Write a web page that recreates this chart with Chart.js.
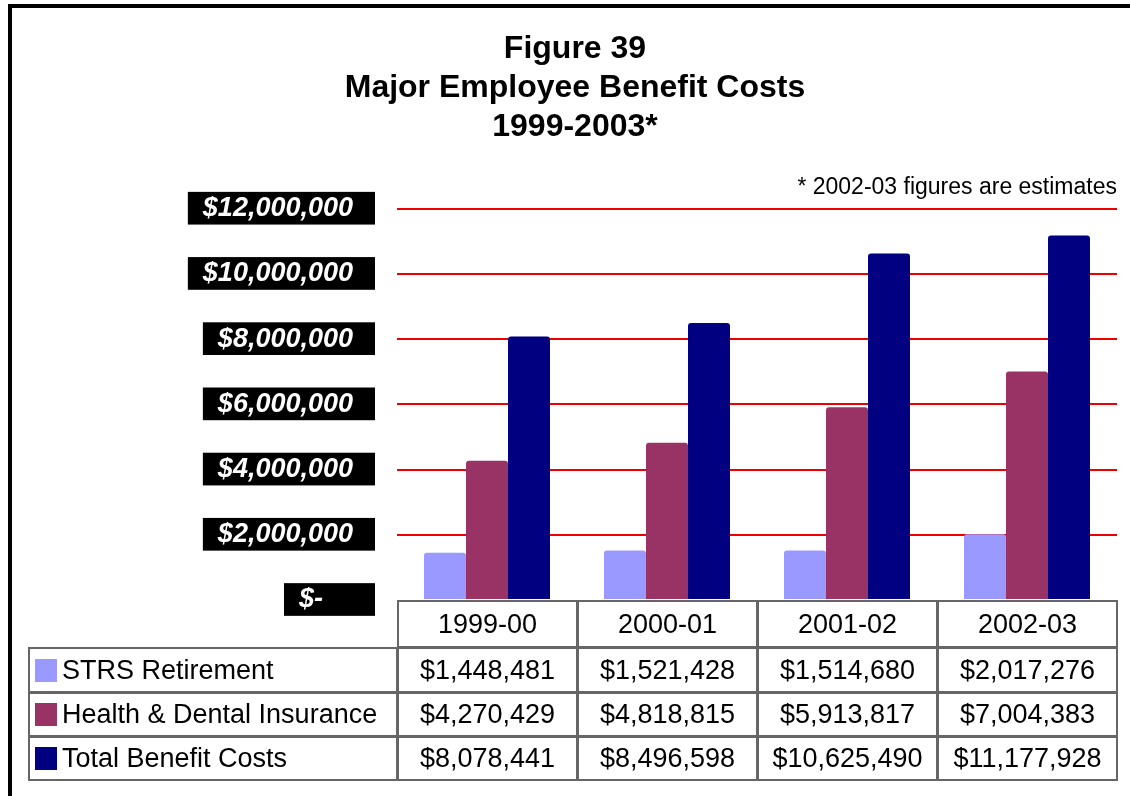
<!DOCTYPE html>
<html><head><meta charset="utf-8">
<script src="https://cdn.jsdelivr.net/npm/chart.js@4"></script>
<style>
html,body{margin:0;padding:0;background:#fff;}
#wrap{position:relative;width:1130px;height:796px;overflow:hidden;font-family:'Liberation Sans',Arial,sans-serif;background:#fff;}
#frame{position:absolute;left:8px;top:4px;width:1300px;height:1000px;border-left:4px solid #000;border-top:4px solid #000;}
canvas{position:absolute;left:0;top:0;}
.cell{position:absolute;box-sizing:border-box;display:flex;align-items:center;justify-content:center;font-size:27px;color:#000;white-space:nowrap;border:2px solid #666;}
.lg{justify-content:flex-start;}
.sw{display:inline-block;width:22px;height:23px;margin-left:5px;margin-right:5px;}
</style></head>
<body><div id="wrap"><div id="frame"></div><canvas id="c" width="1130" height="796"></canvas><div id="tbl"></div></div>
<script>
const categories = ['1999-00','2000-01','2001-02','2002-03'];
const strsRetirement = [1448481,1521428,1514680,2017276];
const healthDental = [4270429,4818815,5913817,7004383];
const totalBenefit = [8078441,8496598,10625490,11177928];
const seriesNames = ['STRS Retirement','Health & Dental Insurance','Total Benefit Costs'];
const seriesColors = ['#9999FF','#993366','#000080'];
const yTickValues = [0,2000000,4000000,6000000,8000000,10000000,12000000];
const titleLines = ['Figure 39','Major Employee Benefit Costs','1999-2003*'];
const noteText = '* 2002-03 figures are estimates';

const FONT = "'Liberation Sans', Arial, sans-serif";
const seriesValues = [strsRetirement, healthDental, totalBenefit];
const fmt = v => '$' + v.toLocaleString('en-US');

const chart = new Chart(document.getElementById('c'), {
  type: 'bar',
  data: {
    labels: categories,
    datasets: seriesNames.map((n, i) => ({
      label: n,
      data: seriesValues[i],
      backgroundColor: seriesColors[i],
      borderRadius: {topLeft: 3, topRight: 3, bottomLeft: 0, bottomRight: 0},
      borderSkipped: 'bottom',
      categoryPercentage: 0.7,
      barPercentage: 1.0
    }))
  },
  options: {
    responsive: false,
    animation: false,
    layout: {padding: {left: 33, right: 13, top: 0, bottom: 196}},
    plugins: {
      legend: {display: false},
      tooltip: {enabled: false},
      title: {
        display: true, text: titleLines, color: '#000',
        font: {family: FONT, size: 32, weight: 'bold', lineHeight: 1.22},
        padding: {top: 30, bottom: 0}
      },
      subtitle: {
        display: true, text: noteText, color: '#000', align: 'end',
        font: {family: FONT, size: 23, weight: 'normal', lineHeight: 1.2},
        padding: {top: 27, bottom: 7}
      }
    },
    scales: {
      x: {display: false},
      y: {
        min: 0, max: 12000000,
        afterBuildTicks: s => { s.ticks = yTickValues.map(v => ({value: v})); },
        afterFit: s => { s.width = 364; },
        border: {display: false},
        grid: {
          drawTicks: false,
          lineWidth: 2,
          color: c => (c.tick && c.tick.value === 0) ? 'rgba(0,0,0,0)' : '#ee0000'
        },
        ticks: {
          padding: 44,
          color: '#fff',
          font: {family: FONT, size: 27, weight: 'bold', style: 'italic', lineHeight: 1.1},
          showLabelBackdrop: true,
          backdropColor: '#000',
          backdropPadding: {top: 2, bottom: 1, left: 15, right: 22},
          callback: v => v === 0 ? '$-    ' : fmt(v)
        }
      }
    }
  }
});

// data table under the plot, aligned to the chart's category scale
(function buildTable(){
  const area = chart.chartArea;
  const xs = chart.scales.x;
  const tbl = document.getElementById('tbl');
  const n = categories.length;
  const colW = (area.right - area.left) / n;
  const rowH = [47, 45, 44, 44];
  let y = area.bottom;
  const tableLeft = 28;
  function cell(x, yy, w, h, html, cls){
    const d = document.createElement('div');
    d.className = 'cell' + (cls ? ' ' + cls : '');
    d.style.left = x + 'px'; d.style.top = yy + 'px';
    d.style.width = (w + 1) + 'px'; d.style.height = (h + 1) + 'px';
    d.innerHTML = html;
    tbl.appendChild(d);
  }
  categories.forEach((c, i) => {
    const cx = xs.getPixelForValue(i);
    cell(cx - colW/2, y, colW, rowH[0], c);
  });
  y += rowH[0];
  seriesNames.forEach((name, s) => {
    const h = rowH[s + 1];
    cell(tableLeft, y, area.left - tableLeft, h,
      '<span class="sw" style="background:' + seriesColors[s] + '"></span>' + name.replace('&', '&amp;'), 'lg');
    seriesValues[s].forEach((v, i) => {
      const cx = xs.getPixelForValue(i);
      cell(cx - colW/2, y, colW, h, fmt(v));
    });
    y += h;
  });
})();
</script>
</body></html>
